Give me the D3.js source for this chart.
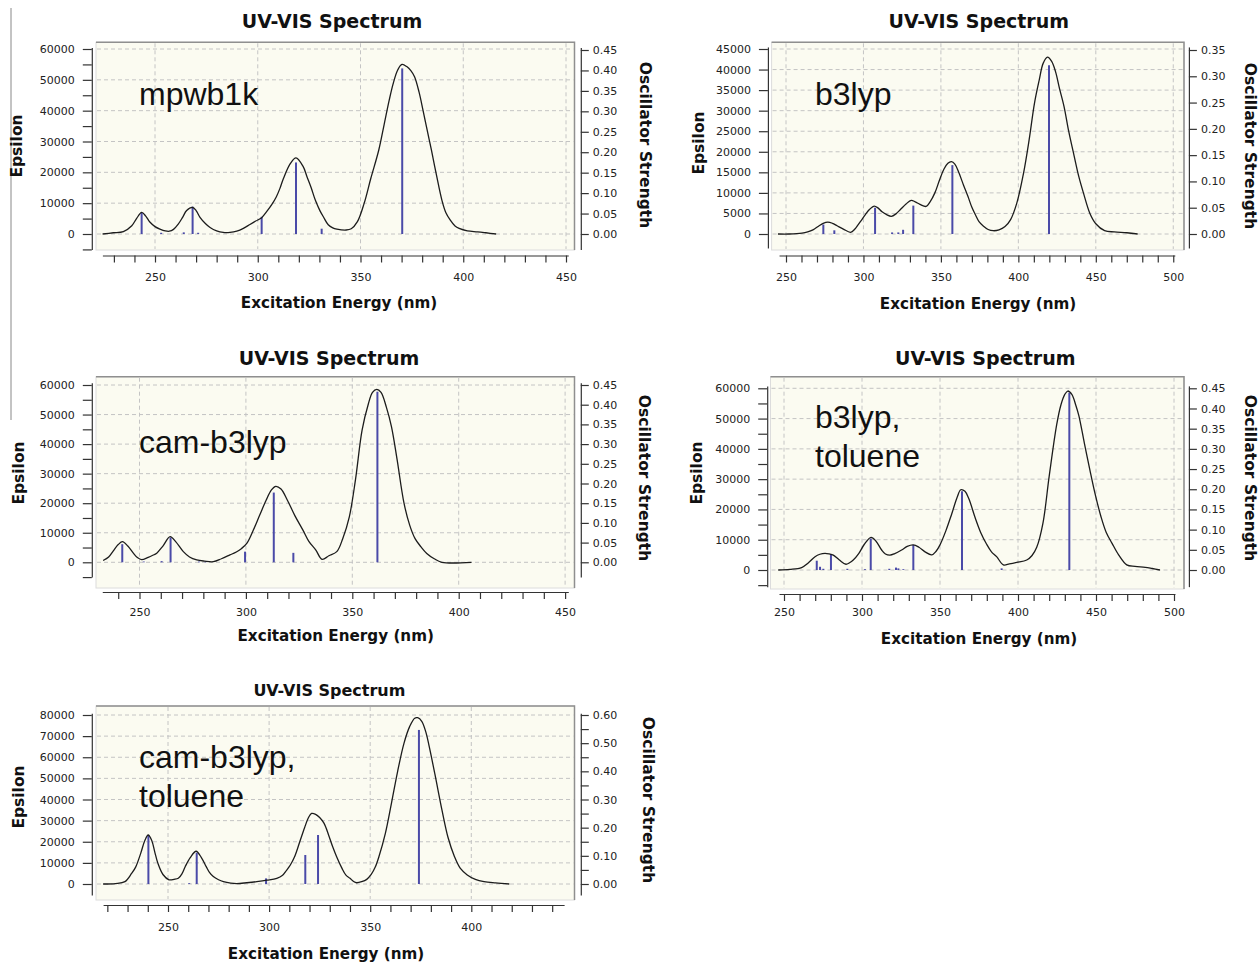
<!DOCTYPE html>
<html><head><meta charset="utf-8">
<script src="https://cdn.jsdelivr.net/npm/d3@7"></script>
<style>body{margin:0;background:#fff;}svg{display:block;}</style>
</head><body>
<svg id="c" width="1259" height="962"></svg>
<script>
// ---------- DATA ----------
// spectra: [wavelength nm, epsilon]
const mpwb1kSpectrum = [[224.5,0],[229.7,400],[234.6,800],[238.7,2700],[241,5000],[243.5,7000],[245.5,5800],[247.6,3800],[250,2400],[252.4,1600],[255,1000],[257,900],[259,1500],[261.3,3200],[263.5,5500],[265.4,7600],[268.3,8600],[270,7600],[271.9,5400],[274.5,3400],[276.8,2100],[280,1000],[283.2,500],[286.5,500],[289.8,900],[293,1800],[296.2,3100],[299,4200],[301.9,5300],[304.5,7400],[306.8,9500],[309,12000],[310.8,14800],[312.5,18000],[315.9,22900],[318.6,24700],[322,22000],[324,18500],[326,15000],[328,11000],[330.3,7500],[332,5500],[334.3,3000],[336.5,2000],[338.5,1600],[343,1300],[345.5,1700],[348.5,4000],[351.8,10000],[355,18000],[358.9,27250],[361.5,35500],[364,43500],[366,49000],[368.1,53200],[370.2,55000],[372.5,54300],[374.5,53000],[376.3,51000],[378.5,46000],[380.4,40200],[382.5,33500],[384.5,27250],[387,19000],[389.6,11000],[391.5,7000],[393.7,4500],[396,2600],[398,1800],[402,1000],[407,700],[411,400],[416,0]];
const mpwb1kSticks = [[243.5,0.052],[253,0.003],[264,0.004],[268.3,0.067],[271,0.003],[301.9,0.042],[318.6,0.175],[331.1,0.013],[370.3,0.405]];

const b3lypSpectrum = [[244.8,0],[252,0],[260.3,200],[264,500],[267.4,1000],[271,1900],[274,2600],[277,2900],[280,2600],[283,2000],[287,1200],[291.7,400],[294.5,1200],[296.5,2200],[298.4,3200],[301,4600],[304,6000],[306.9,6800],[309.5,6300],[312,5400],[315,4700],[318,4300],[321,4900],[324,6000],[327.5,7300],[330.8,8200],[333.5,7800],[336.5,7200],[340.5,6700],[343,7800],[346.1,10000],[349,13000],[352,15800],[354.5,17200],[356.8,17600],[359,17000],[361.5,15000],[364.5,12000],[367.5,9100],[370,6500],[372.5,4500],[374.6,3000],[377.5,1900],[380.5,1100],[383.8,800],[387.5,1000],[391.4,1800],[395,3500],[399,7500],[403.3,14700],[407,23000],[410.4,31800],[413.5,37500],[416,41500],[418.8,43000],[421.5,42000],[424,39500],[426.5,35500],[429.5,31000],[432.5,25000],[436,19000],[439,14000],[442,10000],[446.2,5000],[450,2500],[455.7,800],[462,500],[470,300],[477,0]];
const b3lypSticks = [[274.1,0.018],[281.2,0.007],[307.5,0.050],[318.5,0.003],[322.5,0.003],[325.6,0.008],[332.2,0.054],[357.4,0.131],[419.8,0.321]];

const camb3lypSpectrum = [[232.9,600],[235.5,1800],[237.7,3900],[240,6000],[242,7000],[244.5,5500],[247.1,3100],[249,1600],[251,900],[254.1,1700],[256,2300],[258.1,3100],[261,5500],[264.4,8700],[267,7000],[270.6,3600],[273.5,1800],[276.9,800],[280.5,400],[284.7,200],[288.5,1200],[292.5,2500],[295.5,3500],[298,4700],[300.5,6500],[303.5,10900],[306.5,16000],[309.5,21000],[312,24500],[314,25700],[316.5,24800],[319.5,21000],[323,15800],[326.8,10900],[329.5,7200],[332.8,4200],[335.8,1000],[339,2200],[342.7,3600],[345.5,8000],[348.6,15400],[351.5,28000],[354.6,44700],[357.5,53500],[359.5,57500],[361.5,58500],[363.5,57500],[366,52500],[368.4,45900],[371,35000],[374.3,20000],[377,12500],[379.5,8000],[382.2,5300],[385,3000],[388.5,1200],[392.1,0],[406,0]];
const camb3lypSticks = [[241.9,0.046],[252,0.002],[260.4,0.003],[264.6,0.063],[278,0.002],[281,0.002],[299.6,0.027],[313.1,0.177],[322.3,0.024],[361.8,0.433]];

const b3lypTolSpectrum = [[246.3,0],[253.8,200],[261.3,800],[265.5,2300],[269.9,4400],[273,5200],[276.3,5500],[279,5300],[281.6,4900],[285.5,3300],[289.7,1900],[292,2400],[294.4,3300],[298,5500],[301.5,8500],[305.8,10800],[309,9500],[312.6,6600],[315,5300],[317.9,4900],[321,5400],[325.4,6600],[329,7800],[332.9,8300],[336.5,7500],[340.4,6000],[344.7,5000],[347.5,6200],[350,8300],[353.8,13000],[357.5,18500],[361,24000],[363.3,26500],[366,26000],[368.5,23500],[372.7,17000],[376,12500],[379.9,8500],[383,6000],[386.3,4400],[390.6,1700],[394.5,2000],[399.2,2500],[405.6,3300],[409,4800],[412,7500],[416,15500],[420,31000],[424.8,48000],[427.5,54500],[430,58000],[431.9,59100],[434.5,58000],[437,54500],[439,51000],[442.5,42000],[446.1,33000],[449.5,25000],[453.2,17600],[456.5,12500],[460.3,8800],[464.5,5000],[469.7,1700],[475,1200],[481.6,900],[486,500],[491,0]];
const b3lypTolSticks = [[271,0.023],[273.1,0.008],[275.2,0.003],[280.1,0.039],[290.6,0.003],[301.9,0.002],[305.6,0.078],[317.5,0.003],[321.8,0.006],[323.3,0.004],[326.5,0.002],[332.9,0.062],[364.1,0.195],[389.5,0.004],[432.9,0.439]];

const camb3lypTolSpectrum = [[217.9,0],[224,200],[228.7,1100],[232,5000],[234,8000],[236.5,14500],[238.5,20500],[240.2,23200],[242,20500],[243.5,15000],[245,9800],[247.5,4500],[250.5,2000],[253,2200],[255.1,2700],[257,5000],[258.5,8200],[261,12500],[263.9,15500],[266.5,12500],[268.9,8200],[270.5,5500],[272.4,3500],[275,2000],[277.4,1100],[281,400],[284,200],[289,600],[293.9,1100],[299,1800],[303.8,2700],[306.5,4000],[308.7,6600],[310.5,9000],[312.6,12900],[315,19500],[317.5,26500],[319.5,31500],[321,33400],[323,33000],[325,31500],[327.2,28700],[329.5,23000],[331.5,17500],[333.4,12900],[336,7500],[338,4200],[340,2700],[341.8,1200],[343.3,600],[345.8,1100],[348.3,2200],[350.5,4500],[352.5,8000],[354.3,12900],[357.5,24000],[360.5,38200],[363.5,53000],[366.7,66600],[369.5,74500],[372,78500],[373.5,78700],[375.5,77000],[377.5,72000],[379.2,65000],[382,52000],[385.5,35000],[388.5,22000],[391.7,12900],[394.5,7500],[398,4300],[402,2200],[406.3,1100],[412,500],[418.8,0]];
const camb3lypTolSticks = [[240.3,0.174],[260.5,0.003],[264.2,0.111],[298.5,0.020],[317.9,0.103],[324.2,0.174],[374.1,0.547]];

// tick labels
const xLabelsA = [250,300,350,400,450];
const xLabelsB = [250,300,350,400,450,500];
const xLabelsC = [250,300,350,400];
const titleText = "UV-VIS Spectrum";
const xTitleText = "Excitation Energy (nm)";
const yTitleText = "Epsilon";
const y2TitleText = "Oscillator Strength";

// ---------- LAYOUT ----------
const panels = [
 {spec:mpwb1kSpectrum, sticks:mpwb1kSticks, note:["mpwb1k"], noteX:139, noteY:[105],
  title:[332,27.5,19], box:[96,42.3,574.5,250], xAxisY:255.5, x250:155, ppn:2.055, xExt:[224.4,451.1], xLabels:xLabelsA, labY:277,
  lx:91.8, zeroY:234, lTop:60000, lTopY:49, lExt:[-5000,60500], lMajor:10000, lMinor:5000,
  rx:580.8, rTop:0.45, rTopY:50, rMajor:0.05, rMinor:null, xTitle:[339,307.5], eps:[17,146], osc:[645,145]},
 {spec:b3lypSpectrum, sticks:b3lypSticks, note:["b3lyp"], noteX:815, noteY:[105],
  title:[978.8,27.5,19], box:[771.6,42.3,1184,250], xAxisY:255.5, x250:786, ppn:1.549, xExt:[245.5,501], xLabels:xLabelsB, labY:277,
  lx:767.9, zeroY:234, lTop:45000, lTopY:49, lExt:[-3400,45500], lMajor:5000, lMinor:null,
  rx:1188.9, rTop:0.35, rTopY:50, rMajor:0.05, rMinor:null, xTitle:[978,308.5], eps:[698.5,143], osc:[1250.5,146]},
 {spec:camb3lypSpectrum, sticks:camb3lypSticks, note:["cam-b3lyp"], noteX:139, noteY:[453],
  title:[329,365,19], box:[96,376.7,574.5,588], xAxisY:592, x250:139.5, ppn:2.128, xExt:[232.5,451.5], xLabels:xLabelsA, labY:612,
  lx:91.8, zeroY:562.3, lTop:60000, lTopY:385, lExt:[-5000,60800], lMajor:10000, lMinor:5000,
  rx:580.8, rTop:0.45, rTopY:385, rMajor:0.05, rMinor:null, xTitle:[335.7,640.5], eps:[19,473], osc:[644,478]},
 {spec:b3lypTolSpectrum, sticks:b3lypTolSticks, note:["b3lyp,","toluene"], noteX:815, noteY:[428.3,466.7],
  title:[985.3,365,19], box:[770.5,376.7,1184,589], xAxisY:594, x250:784, ppn:1.56, xExt:[246.8,500.6], xLabels:xLabelsB, labY:612,
  lx:767.2, zeroY:570, lTop:60000, lTopY:388.3, lExt:[-5500,60800], lMajor:10000, lMinor:5000,
  rx:1188.9, rTop:0.45, rTopY:388.3, rMajor:0.05, rMinor:null, xTitle:[979,643.5], eps:[696.6,473], osc:[1250.5,478]},
 {spec:camb3lypTolSpectrum, sticks:camb3lypTolSticks, note:["cam-b3lyp,","toluene"], noteX:139, noteY:[768.3,806.7],
  title:[329.4,696,16], box:[96,706,574.5,900], xAxisY:905, x250:168, ppn:2.022, xExt:[217.9,445.9], xLabels:xLabelsC, labY:927,
  lx:91.8, zeroY:884, lTop:80000, lTopY:715, lExt:[-5200,80800], lMajor:10000, lMinor:null,
  rx:580.8, rTop:0.60, rTopY:715, rMajor:0.10, rMinor:0.05, xTitle:[326,958.5], eps:[19,797], osc:[648,800]}
];

const svg = d3.select('#c');
const AX = '#333';
const TICKFONT = 'DejaVu Sans';

// stray frame line at the far left of the figure
svg.append('line').attr('x1',11).attr('x2',11).attr('y1',8).attr('y2',420).attr('stroke','#888').attr('stroke-width',1);

function styleAxis(g){
  g.attr('font-family',TICKFONT).attr('font-size',11);
  g.selectAll('path.domain').attr('stroke',AX).attr('stroke-width',1.2);
  g.selectAll('.tick line').attr('stroke',AX).attr('stroke-width',1.2);
  g.selectAll('.tick text').attr('fill','#222');
}
function stepValues(lo, hi, step){
  const out=[]; const n0=Math.ceil(lo/step-1e-9), n1=Math.floor(hi/step+1e-9);
  for(let i=n0;i<=n1;i++) out.push(+(i*step).toFixed(6));
  return out;
}

panels.forEach(p=>{
  const g = svg.append('g');
  const [bx0,by0,bx1,by1] = p.box;
  const x = d3.scaleLinear().domain([250,450]).range([p.x250, p.x250+200*p.ppn]);
  const yL = d3.scaleLinear().domain([0,p.lTop]).range([p.zeroY,p.lTopY]);
  const yR = d3.scaleLinear().domain([0,p.rTop]).range([p.zeroY,p.rTopY]);

  // plot box
  g.append('rect').attr('x',bx0).attr('y',by0).attr('width',bx1-bx0).attr('height',by1-by0)
    .attr('fill','#fbfbf1').attr('stroke','#dcdcdc').attr('stroke-width',1);
  g.append('path').attr('d',`M${bx0},${by0}H${bx1}V${by1}`).attr('fill','none').attr('stroke','#8f8f8f').attr('stroke-width',1.5);

  // grid
  const hVals = stepValues(0,p.lTop,p.lMajor);
  g.selectAll(null).data(hVals).join('line')
    .attr('x1',bx0+1).attr('x2',bx1-1).attr('y1',d=>yL(d)).attr('y2',d=>yL(d))
    .attr('stroke','#c4c4c4').attr('stroke-dasharray','4,3').attr('stroke-width',1);
  g.selectAll(null).data(p.xLabels).join('line')
    .attr('x1',d=>x(d)).attr('x2',d=>x(d)).attr('y1',by0+1).attr('y2',by1-1)
    .attr('stroke','#c4c4c4').attr('stroke-dasharray','4,3').attr('stroke-width',1);

  // oscillator sticks
  g.selectAll(null).data(p.sticks).join('line')
    .attr('x1',d=>x(d[0])).attr('x2',d=>x(d[0])).attr('y1',yR(0)).attr('y2',d=>yR(d[1]))
    .attr('stroke','#4a4aa8').attr('stroke-width',2);

  // spectrum curve
  const line = d3.line().x(d=>x(d[0])).y(d=>Math.min(yL(d[1]), p.zeroY)).curve(d3.curveCatmullRom.alpha(0.5));
  g.append('path').datum(p.spec).attr('d',line).attr('fill','none').attr('stroke','#1c1c1c').attr('stroke-width',1.3);

  // x axis
  const xa = x.copy().domain(p.xExt).range(p.xExt.map(x));
  const xg = g.append('g').attr('transform',`translate(0,${p.xAxisY})`)
    .call(d3.axisBottom(xa).tickValues(stepValues(p.xExt[0],p.xExt[1],10))
      .tickFormat(d=>p.xLabels.includes(d)?d:'').tickSize(7).tickSizeOuter(0).tickPadding(p.labY-p.xAxisY-11));
  styleAxis(xg);

  // left axis
  const la = yL.copy().domain(p.lExt).range(p.lExt.map(yL));
  const lt = stepValues(p.lExt[0], p.lExt[1], p.lMinor||p.lMajor).filter(v=>v>=-5000);
  const lg = g.append('g').attr('transform',`translate(${p.lx},0)`)
    .call(d3.axisLeft(la).tickValues(lt)
      .tickFormat(d=>(d>=0 && Math.abs(d/p.lMajor-Math.round(d/p.lMajor))<1e-6)?d3.format('d')(d):'')
      .tickSize(9).tickSizeOuter(0).tickPadding(8));
  styleAxis(lg);

  // right axis
  const rExt = p.lExt.map(v=>yR.invert(yL(v)));
  const ra = yR.copy().domain(rExt).range(rExt.map(yR));
  const rt = stepValues(0, p.rTop, p.rMinor||p.rMajor);
  const rg = g.append('g').attr('transform',`translate(${p.rx},0)`)
    .call(d3.axisRight(ra).tickValues(rt)
      .tickFormat(d=>(Math.abs(d/p.rMajor-Math.round(d/p.rMajor))<1e-6)?d3.format('.2f')(d):'')
      .tickSize(8).tickSizeOuter(0).tickPadding(4));
  styleAxis(rg);

  // titles
  g.append('text').attr('x',p.title[0]).attr('y',p.title[1]).attr('text-anchor','middle')
    .attr('font-family','DejaVu Sans').attr('font-weight','bold').attr('font-size',p.title[2]).attr('fill','#111').text(titleText);
  g.append('text').attr('x',p.xTitle[0]).attr('y',p.xTitle[1]).attr('text-anchor','middle')
    .attr('font-family','DejaVu Sans').attr('font-weight','bold').attr('font-size',15.2).attr('fill','#111').text(xTitleText);
  g.append('text').attr('transform',`translate(${p.eps[0]},${p.eps[1]}) rotate(-90)`).attr('text-anchor','middle').attr('dy','0.35em')
    .attr('font-family','DejaVu Sans').attr('font-weight','bold').attr('font-size',15.5).attr('fill','#111').text(yTitleText);
  g.append('text').attr('transform',`translate(${p.osc[0]},${p.osc[1]}) rotate(90)`).attr('text-anchor','middle').attr('dy','0.35em')
    .attr('font-family','DejaVu Sans').attr('font-weight','bold').attr('font-size',15.5).attr('fill','#111').text(y2TitleText);

  // method annotation
  p.note.forEach((t,i)=>{
    g.append('text').attr('x',p.noteX).attr('y',p.noteY[i]).attr('font-family','Liberation Sans, Arial, sans-serif')
      .attr('font-size',32).attr('fill','#111').text(t);
  });
});
</script>
</body></html>
